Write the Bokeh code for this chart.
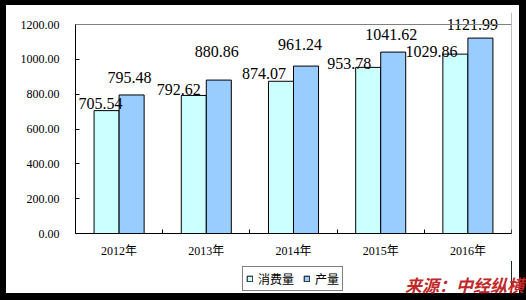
from bokeh.plotting import figure
from bokeh.models import (Range1d, FixedTicker, NumeralTickFormatter, ColumnDataSource,
                          Legend, LegendItem, Span, Div)
from bokeh.layouts import column
from bokeh.embed import file_html
from bokeh.resources import INLINE

# ---- data ----
categories = ["2012年", "2013年", "2014年", "2015年", "2016年"]
consumption = [705.54, 792.62, 874.07, 953.78, 1029.86]   # 消费量
production = [795.48, 880.86, 961.24, 1041.62, 1121.99]   # 产量
series_names = ["消费量", "产量"]
y_ticks = [0, 200, 400, 600, 800, 1000, 1200]
source_note = "来源：中经纵横"

# ---- styling / label nudges (screen px) ----
cons_dx = [-6, -15, -17, -19, -24]
cons_dy = [-7, -6, -8, -4, -3]
prod_dx = [-2, -2, -6, -2, -8]
prod_dy = [-17, -29, -22, -18, -14]
colors = ["#CCFFFF", "#99CCFF"]
bar_w = 0.287
serif = "'Liberation Serif', 'Noto Sans CJK SC'"
axis_px = 209      # pixel height of 0..1200
headroom_px = 12   # room above the top gridline for value labels
W, H_main, H_foot = 513, 256, 32

n = len(categories)
centers = [i + 0.5 for i in range(n)]
bounds = list(range(n + 1))
y_lo, y_hi = y_ticks[0], y_ticks[-1]
y_top = y_hi * (axis_px + headroom_px) / axis_px

p = figure(width=W, height=H_main, x_range=Range1d(0, n), y_range=Range1d(y_lo, y_top),
           output_backend="svg", toolbar_location=None,
           min_border_left=69, min_border_right=8, min_border_top=19 - headroom_px,
           min_border_bottom=H_main - 19 - axis_px)
p.background_fill_color = "white"
p.border_fill_color = "white"
p.outline_line_color = None
p.xgrid.visible = False
p.ygrid.visible = False

src_c = ColumnDataSource(dict(x=[c - bar_w / 2 for c in centers], y=consumption,
                              t=["%.2f" % v for v in consumption], dx=cons_dx, dy=cons_dy))
src_p = ColumnDataSource(dict(x=[c + bar_w / 2 for c in centers], y=production,
                              t=["%.2f" % v for v in production], dx=prod_dx, dy=prod_dy))

p.vbar(x="x", top="y", bottom=0, width=bar_w, source=src_c,
       fill_color=colors[0], line_color="black", line_width=1)
p.vbar(x="x", top="y", bottom=0, width=bar_w, source=src_p,
       fill_color=colors[1], line_color="black", line_width=1)

for s in (src_c, src_p):
    p.text(x="x", y="y", text="t", source=s, x_offset="dx", y_offset="dy",
           text_align="center", text_baseline="alphabetic",
           text_font={"value": "Liberation Serif"}, text_font_size="16px", text_color="black")

# top and right borders of the plot area
p.add_layout(Span(location=y_hi, dimension="width", line_color="#808080", line_width=1))
p.add_layout(Span(location=n, dimension="height", line_color="#808080", line_width=1))

# y axis
ya = p.yaxis[0]
ya.ticker = FixedTicker(ticks=y_ticks)
ya.formatter = NumeralTickFormatter(format="0.00")
ya.bounds = (y_lo, y_hi)
ya.major_tick_in = 4
ya.major_tick_out = 0
ya.minor_tick_in = 0
ya.minor_tick_out = 0
ya.major_label_standoff = 16
ya.major_label_text_font = serif
ya.major_label_text_font_size = "12px"
ya.major_label_text_color = "black"
ya.axis_line_color = "black"
ya.major_tick_line_color = "black"

# x axis
xa = p.xaxis[0]
xa.ticker = FixedTicker(ticks=centers, minor_ticks=bounds)
xa.major_label_overrides = {c: lab for c, lab in zip(centers, categories)}
xa.major_tick_in = 0
xa.major_tick_out = 0
xa.minor_tick_in = 4
xa.minor_tick_out = 0
xa.minor_tick_line_color = "black"
xa.major_label_standoff = 10
xa.major_label_text_font = serif
xa.major_label_text_font_size = "12px"
xa.major_label_text_color = "black"
xa.axis_line_color = "black"

# ---- footer strip with the legend (legend keys reuse the series, out of view) ----
f = figure(width=W, height=H_foot, x_range=Range1d(-1, 0), y_range=Range1d(0, 1),
           output_backend="svg", toolbar_location=None, x_axis_type=None, y_axis_type=None,
           min_border=0)
f.background_fill_color = "white"
f.border_fill_color = "white"
f.outline_line_color = None
f.xgrid.visible = False
f.ygrid.visible = False
k1 = f.vbar(x="x", top="y", bottom=0, width=bar_w, source=src_c,
            fill_color=colors[0], line_color="black")
k2 = f.vbar(x="x", top="y", bottom=0, width=bar_w, source=src_p,
            fill_color=colors[1], line_color="black")

legend = Legend(items=[LegendItem(label=series_names[0], renderers=[k1]),
                       LegendItem(label=series_names[1], renderers=[k2])],
                location=(167, 2), orientation="horizontal",
                glyph_width=7, glyph_height=7, label_standoff=5, spacing=9,
                padding=3, margin=0, label_height=12,
                label_text_font="Noto Sans CJK SC", label_text_font_size="12px",
                label_text_color="black", label_text_baseline="middle",
                border_line_color="black", border_line_width=1,
                background_fill_color="white", background_fill_alpha=1)
f.add_layout(legend)

note = Div(text=source_note, width=W, height=22,
           styles={"margin-top": "-22px", "text-align": "right",
                   "font-family": "'Noto Sans CJK SC'", "font-weight": "bold",
                   "font-style": "italic", "font-size": "17px", "color": "#C0282A",
                   "line-height": "22px", "padding-top": "3px", "box-sizing": "border-box"})

inner = column(p, f, styles={"background-color": "white"})
layout = column(inner, note, styles={"background-color": "black", "padding": "5px 7px 7px 6px"})

open("out.html", "w").write(file_html(layout, INLINE))
